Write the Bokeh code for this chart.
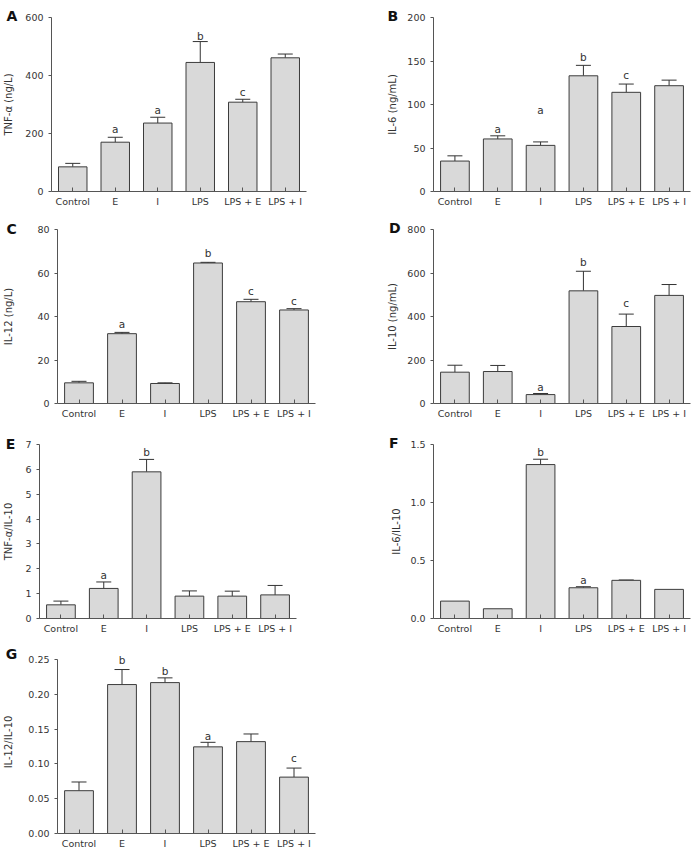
from bokeh.plotting import figure
from bokeh.models import Range1d, FixedTicker, NumeralTickFormatter, Whisker, TeeHead, ColumnDataSource, Spacer
from bokeh.layouts import column, row
from bokeh.core.properties import value
from bokeh.embed import file_html
from bokeh.resources import INLINE

cats = ["Control", "E", "I", "LPS", "LPS + E", "LPS + I"]

tnf = [85, 170, 236, 445, 308, 461]
tnf_sem = [12, 17, 20, 72, 10, 13]
il6 = [35, 60.4, 53, 133, 114, 121.6]
il6_sem = [6, 3.6, 4, 12, 9.5, 6.4]
il12 = [9.5, 32.1, 9.2, 64.6, 46.8, 43]
il12_sem = [0.7, 0.6, 0.3, 0.3, 1.1, 0.6]
il10 = [144, 147, 41, 518, 354, 497]
il10_sem = [32, 28, 5, 90, 57, 50]
tnf_il10 = [0.55, 1.21, 5.9, 0.9, 0.9, 0.95]
tnf_il10_sem = [0.15, 0.26, 0.5, 0.21, 0.2, 0.38]
il6_il10 = [0.15, 0.084, 1.327, 0.265, 0.329, 0.251]
il6_il10_sem = [0, 0, 0.046, 0.009, 0.003, 0]
il12_il10 = [0.0615, 0.214, 0.2168, 0.1245, 0.132, 0.081]
il12_il10_sem = [0.0125, 0.0216, 0.0068, 0.0065, 0.011, 0.013]

# significance letters: category, letter, baseline value
sig_A = [("E", "a", 214.5), ("I", "a", 281), ("LPS", "b", 537), ("LPS + E", "c", 344)]
sig_B = [("E", "a", 71.5), ("I", "a", 93.7), ("LPS", "b", 155), ("LPS + E", "c", 134)]
sig_C = [("E", "a", 36.6), ("LPS", "b", 69.3), ("LPS + E", "c", 51.6), ("LPS + I", "c", 47)]
sig_D = [("I", "a", 78), ("LPS", "b", 651), ("LPS + E", "c", 461)]
sig_E = [("E", "a", 1.75), ("I", "b", 6.68)]
sig_F = [("I", "b", 1.436), ("LPS", "a", 0.332)]
sig_G = [("E", "b", 0.249), ("I", "b", 0.2337), ("LPS", "a", 0.1404), ("LPS + I", "c", 0.108)]

ticks_A = [0, 200, 400, 600]
ticks_B = [0, 50, 100, 150, 200]
ticks_C = [0, 20, 40, 60, 80]
ticks_D = [0, 200, 400, 600, 800]
ticks_E = [0, 1, 2, 3, 4, 5, 6, 7]
ticks_F = [0, 0.5, 1.0, 1.5]
ticks_G = [0, 0.05, 0.10, 0.15, 0.20, 0.25]

FONT = "DejaVu Sans"
TXT = "#333333"


def panel(letter, vals, sems, sig, ylabel, ticks, fmt, w, h, left, right, top, bottom,
          label_standoff, letter_xy, axis_top_px=None, extra=0):
    frame_h = h - top - bottom
    ymax = ticks[-1]
    if axis_top_px is not None:
        yend = ymax * frame_h / axis_top_px
    else:
        yend = ymax
    p = figure(x_range=cats, y_range=Range1d(0, yend), width=w, height=h,
               output_backend="svg", toolbar_location=None,
               min_border_left=left, min_border_right=right,
               min_border_top=top, min_border_bottom=bottom)
    p.outline_line_color = None
    p.xgrid.visible = False
    p.ygrid.visible = False
    p.background_fill_color = "white"
    p.border_fill_color = "white"

    lx, ly = letter_xy
    p.title.text = letter
    p.title.align = "left"
    p.title.offset = lx - left
    p.title.standoff = -int(round(11.5 + ly - top + extra))
    p.title.text_font = FONT
    p.title.text_font_size = "14px"
    p.title.text_font_style = "bold"
    p.title.text_color = "#111111"

    p.vbar(x=cats, top=vals, width=0.67, fill_color="#d9d9d9",
           line_color="#3c3c3c", line_width=1)

    eb = [(c, v, s) for c, v, s in zip(cats, vals, sems) if s > 0]
    src = ColumnDataSource(dict(x=[e[0] for e in eb], lo=[e[1] for e in eb],
                                hi=[e[1] + e[2] for e in eb]))
    wk = Whisker(base="x", lower="lo", upper="hi", source=src, dimension="height",
                 line_color="#333333", line_width=1,
                 upper_head=TeeHead(size=15, line_color="#333333", line_width=1),
                 lower_head=None)
    p.add_layout(wk)

    p.text(x=[s[0] for s in sig], y=[s[2] for s in sig], text=[s[1] for s in sig],
           text_align="center", text_baseline="alphabetic",
           text_font=value(FONT), text_font_size="10.5px", text_color=TXT)

    for ax in (p.xaxis[0], p.yaxis[0]):
        ax.axis_line_color = "#555555"
        ax.major_tick_line_color = "#555555"
        ax.minor_tick_line_color = None
        ax.major_label_text_font = FONT
        ax.major_label_text_font_size = "9.5px"
        ax.major_label_text_color = TXT
        ax.axis_label_text_font = FONT
        ax.axis_label_text_font_size = "10px"
        ax.axis_label_text_font_style = "normal"
        ax.axis_label_text_color = TXT

    xa = p.xaxis[0]
    xa.major_tick_in = 4
    xa.major_tick_out = 0
    xa.major_label_standoff = 4

    ya = p.yaxis[0]
    ya.ticker = FixedTicker(ticks=ticks)
    ya.formatter = NumeralTickFormatter(format=fmt)
    ya.major_tick_out = 3
    ya.major_tick_in = 0
    ya.major_label_standoff = 5
    ya.axis_label = ylabel
    ya.axis_label_standoff = label_standoff
    ya.bounds = (0, ymax)
    return p


pA = panel("A", tnf, tnf_sem, sig_A, "TNF-\u03b1 (ng/L)", ticks_A, "0",
           347, 215, 48, 41, 17, 24, 8, (3, 17.5))
pB = panel("B", il6, il6_sem, sig_B, "IL-6 (ng/mL)", ticks_B, "0",
           347, 215, 86, 4, 17, 24, 6, (40, 17.5))
pC = panel("C", il12, il12_sem, sig_C, "IL-12 (ng/L)", ticks_C, "0",
           347, 215, 54, 32, 13, 22, 20, (3, 15.5))
pD = panel("D", il10, il10_sem, sig_D, "IL-10 (ng/mL)", ticks_D, "0",
           347, 215, 86, 4, 14, 27, 6, (41.5, 15.7))
pE = panel("E", tnf_il10, tnf_il10_sem, sig_E, "TNF-\u03b1/IL-10", ticks_E, "0",
           347, 210, 37, 51, 12, 19, 8, (3.3, 15.8))
pF = panel("F", il6_il10, il6_il10_sem, sig_F, "IL-6/IL-10", ticks_F, "0.0",
           347, 210, 86, 4, 14, 22, 5, (41.5, 15.7))
pG = panel("G", il12_il10, il12_il10_sem, sig_G, "IL-12/IL-10", ticks_G, "0.00",
           347, 213, 55, 32, 10, 20, 11, (3.3, 18.3), axis_top_px=174, extra=3.5)

layout = column(row(pA, pB, spacing=0), row(pC, pD, spacing=0),
                row(pE, pF, spacing=0), row(pG, Spacer(width=347, height=213), spacing=0),
                spacing=0)

open("out.html", "w").write(file_html(layout, INLINE))
